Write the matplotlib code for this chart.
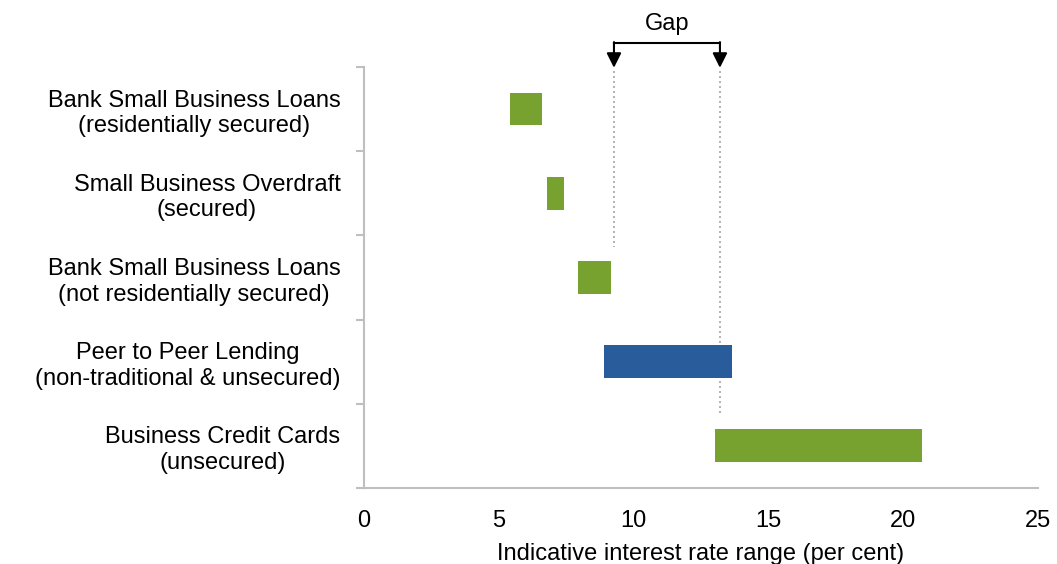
import matplotlib.pyplot as plt
from matplotlib.ticker import FixedLocator

plt.rcParams['font.family'] = ['Liberation Sans', 'DejaVu Sans']

# Indicative interest rate ranges (per cent), top to bottom
products = [
    "Bank Small Business Loans\n(residentially secured)",
    "Small Business Overdraft\n(secured)",
    "Bank Small Business Loans\n(not residentially secured)",
    "Peer to Peer Lending\n(non-traditional & unsecured)",
    "Business Credit Cards\n(unsecured)",
]
rate_low = [5.4, 6.8, 7.95, 8.9, 13.0]
rate_high = [6.6, 7.42, 9.15, 13.65, 20.7]
is_p2p = [False, False, False, True, False]

gap_start = 9.27
gap_end = 13.2

GREEN = "#78A22F"
BLUE = "#285C9B"
GREY = "#BFBFBF"

fig = plt.figure(figsize=(10.57, 5.64), dpi=100)
ax = fig.add_axes([0.3444, 0.1348, 0.6377, 0.7465])

ypos = list(range(len(products)))
widths = [h - l for l, h in zip(rate_low, rate_high)]
colors = [BLUE if p else GREEN for p in is_p2p]
ax.barh(ypos, widths, left=rate_low, height=0.39, color=colors, zorder=3)

ax.set_xlim(0, 25)
ax.set_ylim(len(products) - 0.5, -0.5)

# category labels at centres, tick marks at the boundaries
ax.set_yticks(ypos)
ax.set_yticklabels(products, fontsize=17, ha='right', multialignment='center',
                   linespacing=1.22)
ax.tick_params(axis='y', which='major', length=0, pad=17)
ax.yaxis.set_minor_locator(FixedLocator([i - 0.5 for i in range(len(products) + 1)]))
ax.tick_params(axis='y', which='minor', length=6, width=1.5, color=GREY, direction='out')

ax.set_xticks([0, 5, 10, 15, 20, 25])
ax.tick_params(axis='x', length=0, pad=16, labelsize=17)
ax.set_xlabel("Indicative interest rate range (per cent)", fontsize=17, labelpad=8)

for side in ['top', 'right']:
    ax.spines[side].set_visible(False)
for side in ['left', 'bottom']:
    ax.spines[side].set_color(GREY)
    ax.spines[side].set_linewidth(1.5)

# dotted guide lines marking the gap
ax.plot([gap_start, gap_start], [-0.45, 1.64], ls=(0, (1.2, 1.8)), color="#A6A6A6", lw=1.2, zorder=2)
ax.plot([gap_end, gap_end], [-0.45, 3.63], ls=(0, (1.2, 1.8)), color="#A6A6A6", lw=1.2, zorder=2)

# bracket with arrows above the plot
trans = ax.get_xaxis_transform()
ax.plot([gap_start, gap_end], [1.057, 1.057], color='black', lw=1.5,
        transform=trans, clip_on=False)
for gx in [gap_start, gap_end]:
    ax.annotate('', xy=(gx, 0.998), xytext=(gx, 1.059), xycoords=trans, textcoords=trans,
                arrowprops=dict(arrowstyle='-|>', color='black', lw=1.5, mutation_scale=22,
                                shrinkA=0, shrinkB=0))
ax.text((gap_start + gap_end) / 2, 1.102, "Gap", transform=trans, ha='center', va='center',
        fontsize=17)

fig.savefig("out.png", dpi=100)
